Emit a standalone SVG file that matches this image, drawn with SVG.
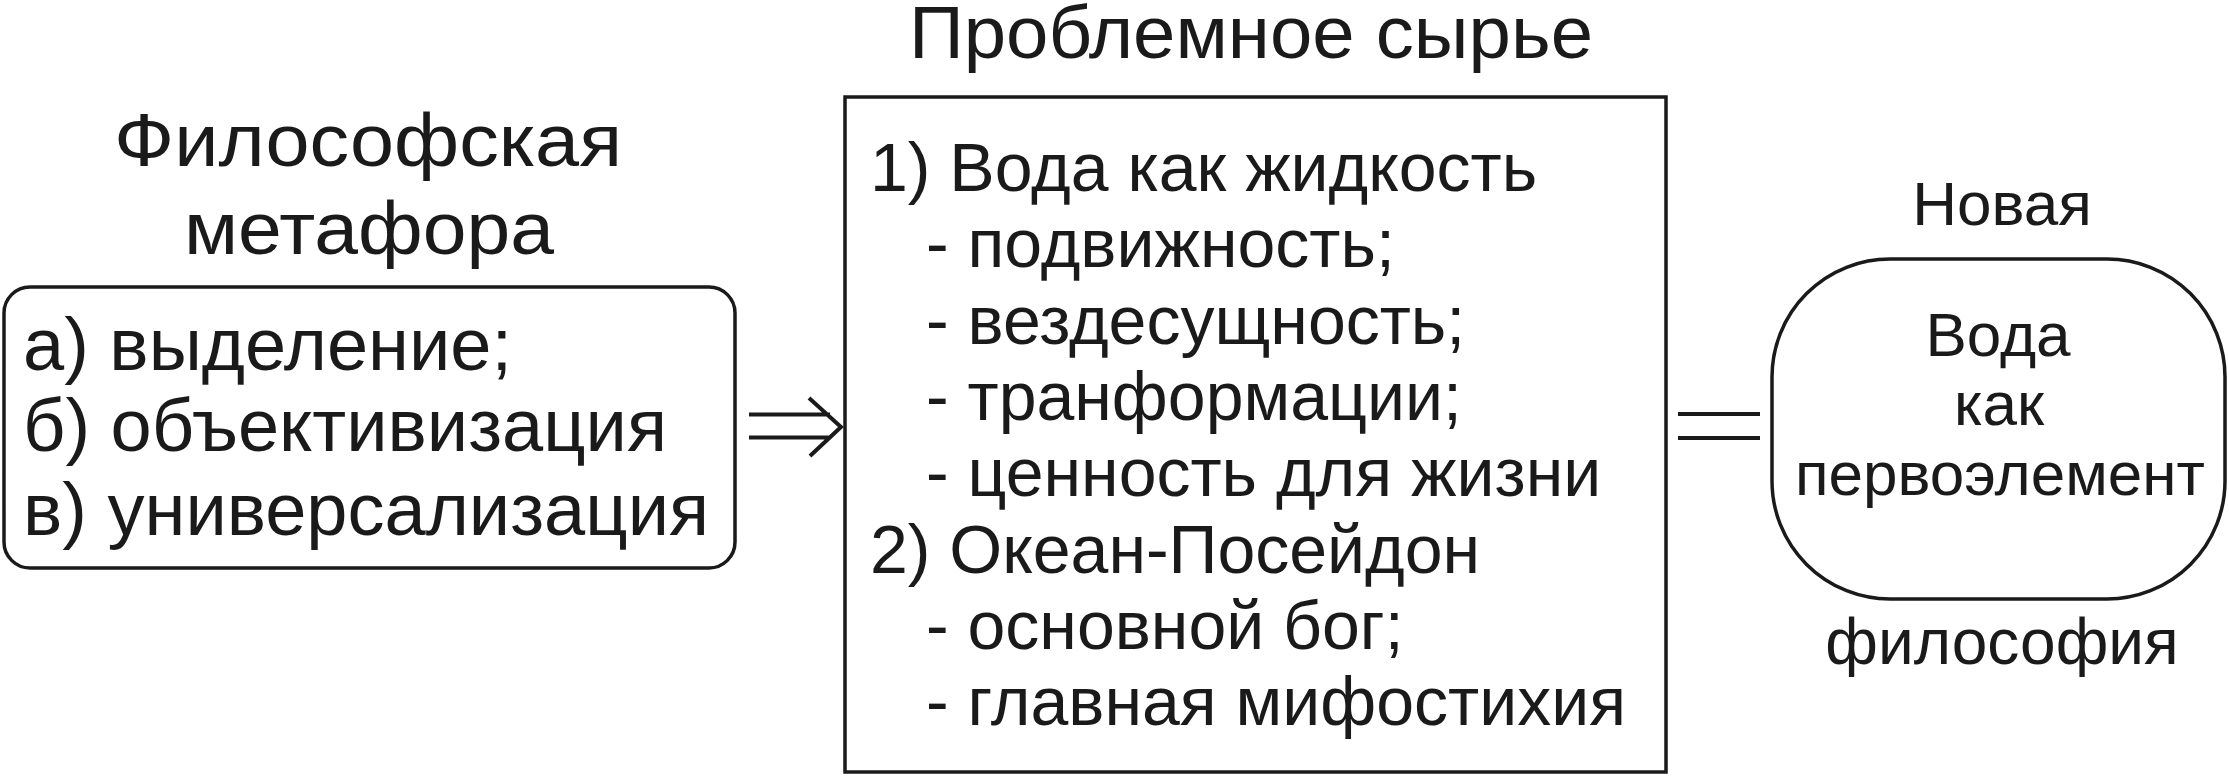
<svg xmlns="http://www.w3.org/2000/svg" width="2229" height="776" viewBox="0 0 2229 776">
<style>
text{font-family:"Liberation Sans",Arial,sans-serif;fill:#1a1a1a}
.t{font-size:75px;text-anchor:middle}
.l{font-size:74px}
.m{font-size:68px}
.r{font-size:62px;text-anchor:middle}
.box{fill:#fff;stroke:#1a1a1a;stroke-width:3.5}
.con{fill:none;stroke:#1a1a1a;stroke-width:4}
</style>
<rect width="2229" height="776" fill="#fff"/>
<g id="metaphor">
<text class="t" x="368" y="166" textLength="508" lengthAdjust="spacingAndGlyphs">Философская</text>
<text class="t" x="369" y="254" textLength="370" lengthAdjust="spacingAndGlyphs">метафора</text>
<rect class="box" x="4" y="287" width="731" height="281" rx="26"/>
<text class="l" x="23" y="370">а) выделение;</text>
<text class="l" x="23" y="451">б) объективизация</text>
<text class="l" x="23" y="535">в) универсализация</text>
</g>
<g id="raw">
<text class="t" x="1251" y="58" textLength="684" lengthAdjust="spacingAndGlyphs">Проблемное сырье</text>
<rect class="box" x="845" y="97" width="821" height="675"/>
<text class="m" x="870" y="191">1) Вода как жидкость</text>
<text class="m" x="926" y="267">- подвижность;</text>
<text class="m" x="926" y="344">- вездесущность;</text>
<text class="m" x="926" y="420">- транформации;</text>
<text class="m" x="926" y="496">- ценность для жизни</text>
<text class="m" x="870" y="573">2) Океан-Посейдон</text>
<text class="m" x="926" y="649">- основной бог;</text>
<text class="m" x="926" y="725">- главная мифостихия</text>
</g>
<g id="newphil">
<text class="r" x="2002" y="225">Новая</text>
<rect class="box" x="1772" y="259" width="453" height="340" rx="118"/>
<text class="r" x="1998" y="356">Вода</text>
<text class="r" x="1999" y="425">как</text>
<text class="r" x="2000" y="495">первоэлемент</text>
<text class="r" x="2002" y="664" style="font-size:64px">философия</text>
</g>
<g id="connectors">
<path class="con" d="M749 414.5H830M749 437.5H830M809 398L841 427L810 456"/>
<path class="con" d="M1678 414H1760M1678 438H1760"/>
</g>
</svg>
